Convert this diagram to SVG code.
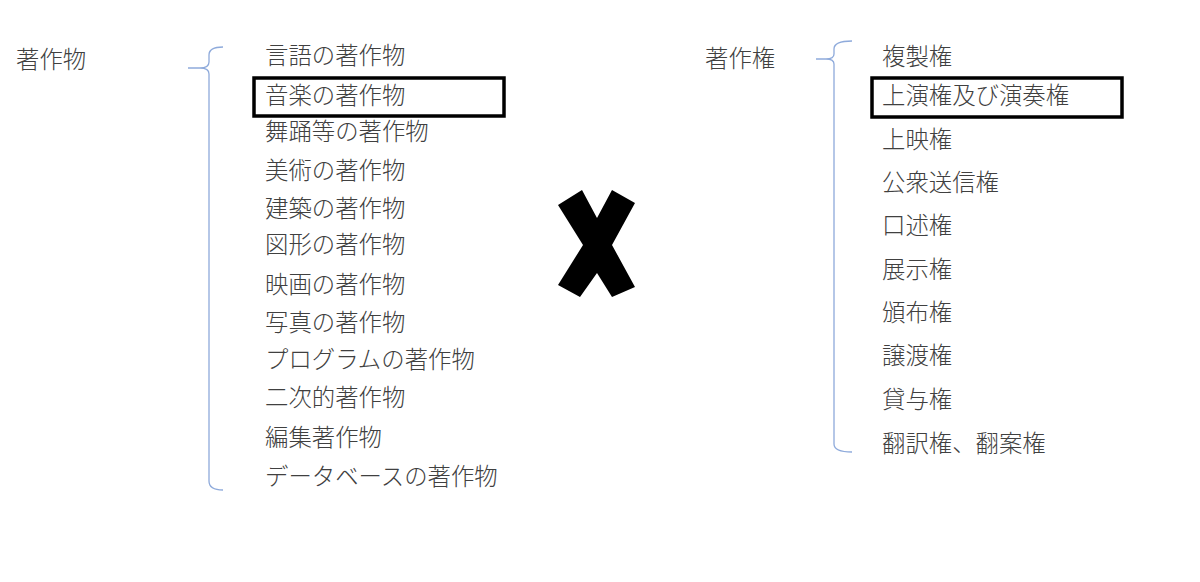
<svg xmlns="http://www.w3.org/2000/svg" width="1200" height="582" viewBox="0 0 1200 582">
<style>
text{font-family:"Noto Sans CJK JP","Noto Sans CJK SC",sans-serif;font-size:23.4px;fill:#404040;font-weight:300}
.br{fill:none;stroke:#8eaadb;stroke-width:1.3}
.box{fill:none;stroke:#000;stroke-width:3.5}
</style>
<rect width="1200" height="582" fill="#fff"/>
<g id="left-head"><text x="16" y="68">著作物</text></g>
<g id="connectors">
<path class="br" d="M223 47 Q209 47 209 55 L209 62 Q209 68 200 68 L188 68 M200 68 Q209 68 209 74 L209 481 Q209 490 223 490"/>
<path class="br" d="M852 41 Q834 41 834 49 L834 54 Q834 59 826 59 L816 59 M826 59 Q834 59 834 64 L834 444 Q834 452 852 452"/>
</g>
<g id="left-list">
<text x="265" y="64">言語の著作物</text>
<g id="box1"><rect class="box" x="254" y="78" width="250" height="38"/><text x="265" y="104">音楽の著作物</text></g>
<text x="265" y="140">舞踊等の著作物</text>
<text x="265" y="179">美術の著作物</text>
<text x="265" y="217">建築の著作物</text>
<text x="265" y="253">図形の著作物</text>
<text x="265" y="293">映画の著作物</text>
<text x="265" y="331">写真の著作物</text>
<text x="265" y="368">プログラムの著作物</text>
<text x="265" y="406">二次的著作物</text>
<text x="265" y="446">編集著作物</text>
<text x="265" y="485">データベースの著作物</text>
</g>
<g id="cross"><polygon fill="#000" points="558,205 582,190 597,218 612,190 635,203 612,245 635,287 612,297 597,273 580,297 558,285 583,245"/></g>
<g id="right-head"><text x="705" y="67">著作権</text></g>
<g id="right-list">
<text x="882" y="65">複製権</text>
<g id="box2"><rect class="box" x="872" y="78" width="250" height="39"/><text x="882" y="104">上演権及び演奏権</text></g>
<text x="882" y="148">上映権</text>
<text x="882" y="191">公衆送信権</text>
<text x="882" y="234">口述権</text>
<text x="882" y="278">展示権</text>
<text x="882" y="321">頒布権</text>
<text x="882" y="364">譲渡権</text>
<text x="882" y="408">貸与権</text>
<text x="882" y="452">翻訳権、翻案権</text>
</g>
</svg>
